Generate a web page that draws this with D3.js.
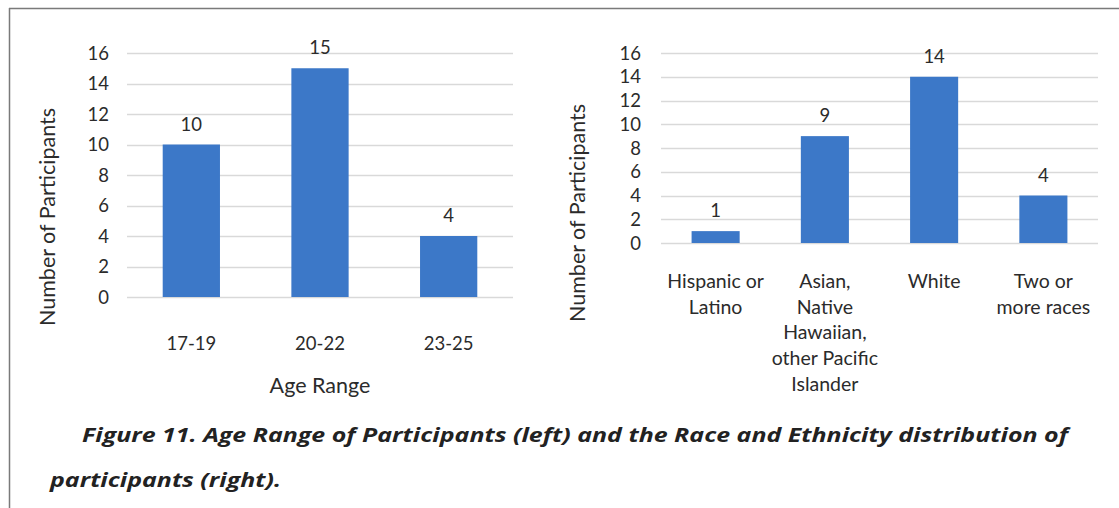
<!DOCTYPE html>
<html>
<head>
<meta charset="utf-8">
<script src="https://cdn.jsdelivr.net/npm/d3@7"></script>
<style>
  html, body { margin: 0; padding: 0; background: #fff; }
  svg { display: block; }
</style>
</head>
<body>
<svg id="fig" width="1119" height="508"></svg>
<script>
// Participants by age range
const ageCategories = ["17-19", "20-22", "23-25"];
const ageValues = [10, 15, 4];

// Participants by race and ethnicity (labels split into lines)
const raceCategories = [
  ["Hispanic or", "Latino"],
  ["Asian,", "Native", "Hawaiian,", "other Pacific", "Islander"],
  ["White"],
  ["Two or", "more races"]
];
const raceValues = [1, 9, 14, 4];

const yTicks = [0, 2, 4, 6, 8, 10, 12, 14, 16];

const captionLines = [
  "Figure 11. Age Range of Participants (left) and the Race and Ethnicity distribution of",
  "participants (right)."
];

const svg = d3.select("#fig");
const FONT = "Lato, 'Open Sans', sans-serif";
const BAR = "#3c78c8";
const GRID = "#d9d9d9";
const TEXT = "#2b2b2b";

// frame lines (top and left)
svg.append("line").attr("x1", 9).attr("x2", 1119).attr("y1", 8.5).attr("y2", 8.5)
  .attr("stroke", "#7a7a7a").attr("stroke-width", 1.5);
svg.append("line").attr("x1", 9.5).attr("x2", 9.5).attr("y1", 8).attr("y2", 508)
  .attr("stroke", "#7a7a7a").attr("stroke-width", 1.5);

function drawChart(opts) {
  const g = svg.append("g");
  const x = d3.scaleBand().domain(opts.cats.map((d, i) => i))
    .range([opts.x0, opts.x1]).padding(0);
  const y = d3.scaleLinear().domain([0, 16]).range([opts.yBottom, opts.yTop]);
  const barW = x.bandwidth() * opts.barFrac;

  // gridlines
  g.selectAll(".grid").data(yTicks).join("line")
    .attr("x1", opts.x0).attr("x2", opts.x1)
    .attr("y1", d => Math.round(y(d)) + 0.5).attr("y2", d => Math.round(y(d)) + 0.5)
    .attr("stroke", GRID).attr("stroke-width", 1.5);

  // y tick labels
  g.selectAll(".ytick").data(yTicks).join("text")
    .attr("x", opts.tickX).attr("y", d => y(d))
    .attr("dy", "0.36em").attr("text-anchor", "end")
    .attr("font-family", FONT).attr("font-size", 18.5).attr("fill", TEXT)
    .text(d => d);

  // bars
  g.selectAll(".bar").data(opts.vals).join("rect")
    .attr("x", (d, i) => x(i) + (x.bandwidth() - barW) / 2)
    .attr("y", d => y(d))
    .attr("width", barW)
    .attr("height", d => y(0) - y(d))
    .attr("fill", BAR);

  // value labels
  g.selectAll(".val").data(opts.vals).join("text")
    .attr("x", (d, i) => x(i) + x.bandwidth() / 2)
    .attr("y", d => y(d) - 14)
    .attr("text-anchor", "middle")
    .attr("font-family", FONT).attr("font-size", 18.5).attr("fill", TEXT)
    .text(d => d);

  // category labels
  opts.cats.forEach((lines, i) => {
    const t = g.append("text")
      .attr("text-anchor", "middle")
      .attr("font-family", FONT).attr("font-size", opts.catFs).attr("fill", TEXT);
    [].concat(lines).forEach((ln, k) => {
      t.append("tspan")
        .attr("x", x(i) + x.bandwidth() / 2)
        .attr("y", opts.catY + k * opts.lineH)
        .text(ln);
    });
  });

  // y axis title
  g.append("text")
    .attr("transform", `translate(${opts.titleX},${opts.titleY}) rotate(-90)`)
    .attr("text-anchor", "middle").attr("dy", "0.35em")
    .attr("font-family", FONT).attr("font-size", 21.5).attr("fill", TEXT)
    .text("Number of Participants");

  if (opts.xTitle) {
    g.append("text")
      .attr("x", (opts.x0 + opts.x1) / 2).attr("y", opts.xTitleY)
      .attr("text-anchor", "middle")
      .attr("font-family", FONT).attr("font-size", 21.5).attr("fill", TEXT)
      .text(opts.xTitle);
  }
}

drawChart({
  cats: ageCategories, vals: ageValues,
  x0: 127, x1: 513, yTop: 53, yBottom: 297,
  barFrac: 0.445, tickX: 109, catFs: 18.5,
  catY: 350, lineH: 25.5,
  titleX: 47, titleY: 217,
  xTitle: "Age Range", xTitleY: 393
});

drawChart({
  cats: raceCategories, vals: raceValues,
  x0: 661, x1: 1098, yTop: 53, yBottom: 243,
  barFrac: 0.44, tickX: 641, catFs: 19.5,
  catY: 288, lineH: 25.7,
  titleX: 577, titleY: 213
});

// caption
const cap = svg.append("g")
  .attr("font-family", "'Open Sans', sans-serif")
  .attr("font-weight", 700).attr("font-style", "italic")
  .attr("font-size", 20).attr("fill", "#222");
cap.append("text").attr("x", 82).attr("y", 442)
  .attr("textLength", 986).attr("lengthAdjust", "spacingAndGlyphs")
  .text(captionLines[0]);
cap.append("text").attr("x", 50).attr("y", 487)
  .attr("textLength", 231).attr("lengthAdjust", "spacingAndGlyphs")
  .text(captionLines[1]);
</script>
</body>
</html>
